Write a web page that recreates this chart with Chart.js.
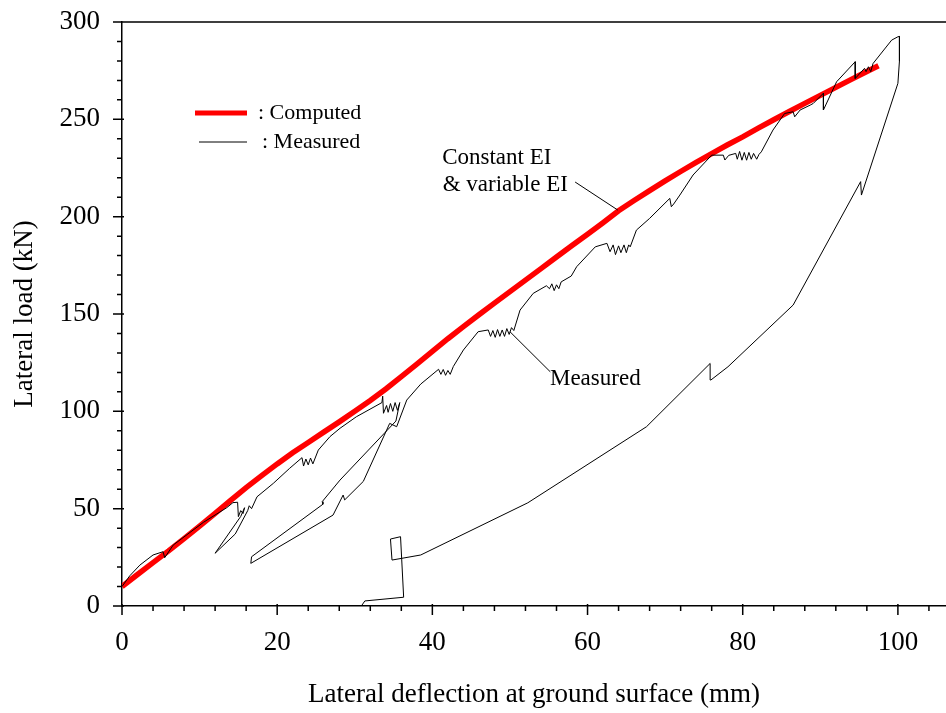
<!DOCTYPE html>
<html>
<head>
<meta charset="utf-8">
<script src="https://cdn.jsdelivr.net/npm/chart.js@4.4.1/dist/chart.umd.min.js"></script>
<style>
  html, body { margin: 0; padding: 0; background: #fff; }
  canvas { display: block; }
</style>
</head>
<body>
<canvas id="load-chart" width="946" height="713"></canvas>
<script>
// Computed curve (constant EI & variable EI)
const computedDefl = [0, 2, 4, 6, 8, 10, 12, 14, 16, 18, 20, 22, 24, 26, 28, 30, 32, 34, 36, 38, 40,
  42, 44, 46, 48, 50, 52, 54, 56, 58, 60, 62, 64, 66, 68, 70, 72, 74, 76, 78, 80, 82, 84, 86, 88, 90,
  92, 94, 96, 97.5];
const computedLoad = [10, 16.2, 22.3, 28.3, 34.6, 41, 47.6, 54.3, 60.8, 67, 73, 78.7, 84, 89.3, 94.6,
  100, 105.6, 111.5, 117.8, 124.2, 130.8, 137.3, 143.5, 149.6, 155.6, 161.5, 167.4, 173.3, 179.3,
  185.2, 191, 196.9, 203, 208.3, 213.4, 218.4, 223.2, 227.9, 232.4, 236.8, 241, 245.5, 249.8, 254,
  258.2, 262.3, 266.4, 270.5, 274.6, 277.5];

// Measured load path (single trace)
const measuredDefl = [0, 1, 2.3, 4, 5.3, 5.5, 6.6, 8.5, 10.5, 13.5, 14.3, 14.9, 15, 15.3, 15.6, 15.8,
  15.3, 12, 14.6, 16.2, 16.4, 16.7, 17.4, 19.5, 21.6, 23.2, 23.4, 23.7, 24, 24.3, 24.6, 25.3, 26.8,
  28.1, 30.2, 33.5, 33.6, 33.7, 34.1, 34.3, 34.6, 34.9, 35.2, 35.5, 35.8, 35.3, 28.1, 25.8, 25.9,
  16.7, 16.6, 27.2, 28.5, 28.7, 31.1, 34.5, 35.4, 36.7, 38.5, 40.8, 41.1, 41.4, 41.7, 42, 42.3, 42.7,
  44, 45.9, 47.2, 47.5, 47.8, 48.1, 48.4, 48.7, 49, 49.3, 49.6, 49.9, 50.2, 50.5, 51.3, 53, 54.7,
  55.1, 55.4, 55.7, 56, 56.3, 56.6, 57.9, 58.6, 61, 62.5, 62.9, 63.3, 63.6, 64, 64.3, 64.7, 65, 65.3,
  65.5, 66.3, 68, 70.6, 70.8, 71.1, 71.9, 73.6, 76, 77.5, 77.7, 78.2, 79.1, 79.3, 79.6, 79.9, 80.2,
  80.5, 80.8, 81.1, 81.4, 81.8, 82.1, 82.4, 83.9, 85.4, 86.5, 86.7, 87.4, 88.7, 89.1, 90.4, 90.4,
  92.1, 94.5, 94.5, 95.7, 95.9, 96.2, 96.5, 96.8, 99.2, 100, 100.2, 100.2, 100, 95.3, 95.2, 86.5,
  78.1, 75.9, 75.8, 67.6, 52.3, 38.5, 34.8, 34.6, 35.9, 36.3, 31.3, 30.9];
const measuredLoad = [10, 15.5, 21, 26.2, 27.9, 24.8, 31.3, 37, 43, 50.5, 53.1, 53.3, 45.9, 49, 47.5,
  50.5, 46, 27.1, 37, 49, 51.5, 50, 56.1, 63, 70.7, 76.2, 71.9, 75.5, 72.5, 76, 73, 80.1, 87, 91.3,
  97.2, 104.5, 107.8, 99, 103, 99.5, 104, 100, 104.5, 100.5, 104.5, 95, 64.7, 53.6, 52.3, 25.3, 21.9,
  46.7, 57, 54.5, 64, 93.8, 92.1, 105.8, 114, 121.6, 119, 121.5, 118.5, 121, 119, 123, 131.5, 140.9,
  141.8, 138.5, 141.5, 138, 142, 138.5, 141.8, 138.5, 142.5, 139.5, 143, 141.5, 152, 160.6, 164.5,
  163, 165.5, 162, 165, 163, 166.5, 169.5, 174.3, 184.5, 186.3, 182, 185.5, 180.5, 185, 181.5, 185.5,
  181.5, 185.5, 184.5, 193.1, 199.1, 209.4, 205.1, 206.5, 211.1, 221.4, 231.6, 231.6, 229.1, 231.5,
  232.5, 229.5, 233.5, 229, 233, 229, 233, 229.5, 232.5, 229.5, 232, 233.3, 244.5, 253, 253.9, 251.3,
  254.8, 257.3, 258.2, 263.4, 254.8, 269.3, 279.6, 271, 276.2, 274.5, 277, 274.5, 278.7, 290.7,
  292.4, 292.6, 280, 268.5, 211.1, 218, 154.6, 122.9, 116.1, 124.6, 92.1, 53, 26.2, 23.6, 34.4,
  35.6, 4.5, 2.6, 0.3];

const xTickLabels = [0, 20, 40, 60, 80, 100];
const yTickLabels = [0, 50, 100, 150, 200, 250, 300];
const xMinorStep = 4;
const yMinorStep = 10;
const xMax = 106.2;
const yMax = 300;

const serif = "'Liberation Serif', 'Times New Roman', serif";
const canvas = document.querySelector("#load-chart");

const toPoints = (xs, ys) => xs.map((x, i) => ({ x: x, y: ys[i] }));

// axis tick marks (minor + major) and the top frame line
const frameTicks = {
  id: "frameTicks",
  afterDraw: (chart) => {
    const { ctx, chartArea } = chart;
    const xs = chart.scales.x;
    const ys = chart.scales.y;
    ctx.save();
    ctx.strokeStyle = "#000";
    ctx.lineWidth = 1.5;
    ctx.beginPath();
    ctx.moveTo(chartArea.left, chartArea.top);
    ctx.lineTo(chartArea.right, chartArea.top);
    for (let v = 0; v <= xMax; v += xMinorStep) {
      const px = xs.getPixelForValue(v);
      const major = xTickLabels.includes(v);
      ctx.moveTo(px, chartArea.bottom - (major ? 2 : 0));
      ctx.lineTo(px, chartArea.bottom + (major ? 9 : 5));
    }
    for (let v = 0; v <= yMax; v += yMinorStep) {
      const py = ys.getPixelForValue(v);
      const major = yTickLabels.includes(v);
      ctx.moveTo(chartArea.left - (major ? 9 : 5), py);
      ctx.lineTo(chartArea.left + (major ? 2 : 0), py);
    }
    ctx.stroke();
    ctx.restore();
  },
};

// legend box and the two callouts
const notes = {
  id: "notes",
  afterDraw: (chart) => {
    const { ctx } = chart;
    const xs = chart.scales.x;
    const ys = chart.scales.y;
    const px = (v) => xs.getPixelForValue(v);
    const py = (v) => ys.getPixelForValue(v);
    ctx.save();

    ctx.lineCap = "butt";
    ctx.strokeStyle = "#ff0000";
    ctx.lineWidth = 5;
    ctx.beginPath();
    ctx.moveTo(195, 113);
    ctx.lineTo(247, 113);
    ctx.stroke();
    ctx.strokeStyle = "#000";
    ctx.lineWidth = 1;
    ctx.beginPath();
    ctx.moveTo(199, 142);
    ctx.lineTo(247, 142);
    ctx.stroke();

    ctx.fillStyle = "#000";
    ctx.textBaseline = "middle";
    ctx.textAlign = "left";
    ctx.font = "22px " + serif;
    ctx.fillText(": Computed", 258, 113);
    ctx.fillText(": Measured", 262, 142);

    ctx.font = "23px " + serif;
    ctx.textAlign = "center";
    ctx.fillText("Constant EI", px(48.3), py(230.1));
    ctx.fillText("& variable EI", px(49.4), py(216.2));
    ctx.fillText("Measured", px(61), py(116.6));

    ctx.lineWidth = 1;
    ctx.beginPath();
    ctx.moveTo(px(58.4), py(217.8));
    ctx.lineTo(px(63.9), py(203.4));
    ctx.moveTo(px(50.0), py(140.9));
    ctx.lineTo(px(55.2), py(120.3));
    ctx.stroke();
    ctx.restore();
  },
};

const chart = new Chart(canvas, {
  type: "scatter",
  data: {
    datasets: [
      {
        label: "Measured",
        data: toPoints(measuredDefl, measuredLoad),
        showLine: true,
        borderColor: "#000",
        borderWidth: 1,
        pointRadius: 0,
        tension: 0,
        order: 0,
      },
      {
        label: "Computed",
        data: toPoints(computedDefl, computedLoad),
        showLine: true,
        borderColor: "#ff0000",
        borderWidth: 5.5,
        pointRadius: 0,
        tension: 0,
        order: 1,
      },
    ],
  },
  options: {
    responsive: false,
    animation: false,
    devicePixelRatio: 1,
    layout: { padding: { top: 22, right: 0, left: 0, bottom: 0 } },
    plugins: {
      legend: { display: false },
      tooltip: { enabled: false },
    },
    scales: {
      x: {
        type: "linear",
        min: 0,
        max: xMax,
        afterBuildTicks: (scale) => {
          scale.ticks = xTickLabels.map((v) => ({ value: v }));
        },
        afterFit: (scale) => {
          scale.height = 107;
          scale.paddingLeft = 0;
          scale.paddingRight = 0;
        },
        grid: { display: false, drawTicks: false },
        border: { display: true, color: "#000", width: 1.5 },
        ticks: {
          color: "#000",
          padding: 21,
          maxRotation: 0,
          font: { family: serif, size: 27 },
        },
        title: {
          display: true,
          text: "Lateral deflection at ground surface (mm)",
          color: "#000",
          font: { family: serif, size: 27, lineHeight: 1 },
          padding: { top: 0, bottom: 4.5 },
        },
      },
      y: {
        type: "linear",
        min: 0,
        max: yMax,
        afterBuildTicks: (scale) => {
          scale.ticks = yTickLabels.map((v) => ({ value: v }));
        },
        afterFit: (scale) => {
          scale.width = 122;
          scale.paddingTop = 0;
          scale.paddingBottom = 0;
        },
        grid: { display: false, drawTicks: false },
        border: { display: true, color: "#000", width: 1.5 },
        ticks: {
          color: "#000",
          padding: 22,
          font: { family: serif, size: 27 },
        },
        title: {
          display: true,
          text: "Lateral load (kN)",
          color: "#000",
          font: { family: serif, size: 27, lineHeight: 1 },
          padding: { top: 11.5, bottom: 0 },
        },
      },
    },
  },
  plugins: [frameTicks, notes],
});
</script>
</body>
</html>
